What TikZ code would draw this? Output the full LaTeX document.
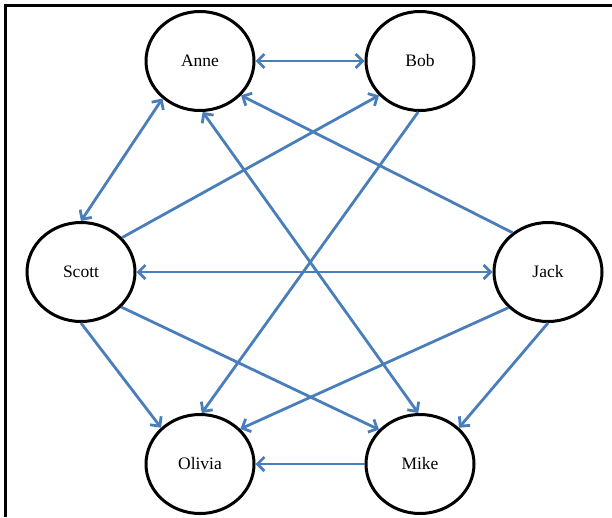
\documentclass[tikz,border=0pt]{standalone}
\usepackage{fontspec}
\setmainfont{Liberation Serif}
\usetikzlibrary{positioning, shapes.geometric, arrows.meta}
\definecolor{edgeblue}{HTML}{4A7EBB}

\begin{document}
\begin{tikzpicture}[x=1pt,y=-1pt,font=\fontsize{17.5}{20}\selectfont,
  person/.style={draw=black, ellipse, line width=3pt, minimum width=108pt, minimum height=99pt, inner sep=0pt},
  link/.style={edgeblue, line width=2.8pt, -{Straight Barb[length=7pt,width=14pt]}},
  twoway/.style={link, {Straight Barb[length=7pt,width=14pt]}-{Straight Barb[length=7pt,width=14pt]}}]
\useasboundingbox (0,0) rectangle (612,517);
\draw[line width=2.8pt] (5.3,517) -- (5.3,5.3) -- (612,5.3);

\node[person] (anne) at (200,61) {Anne};
\node[person, right=109pt of anne] (bob) {Bob};
\node[person, below=109pt of anne, xshift=-119pt] (scott) {Scott};
\node[person, right=356pt of scott] (jack) {Jack};
\node[person, below=301pt of anne] (olivia) {Olivia};
\node[person, right=109pt of olivia] (mike) {Mike};

\foreach \a/\b in {anne.east/bob.west,anne.225/scott.90,anne.273/mike.92,scott.east/jack.west}{
  \draw[twoway](\a)--(\b);}
\foreach \a/\b in {scott.40/bob.220,jack.132/anne.320,bob.268/olivia.88,scott.270/olivia.137,
  scott.319/mike.140,jack.222/olivia.41,jack.270/mike.43,mike.west/olivia.east}{
  \draw[link](\a)--(\b);}

\end{tikzpicture}
\end{document}
